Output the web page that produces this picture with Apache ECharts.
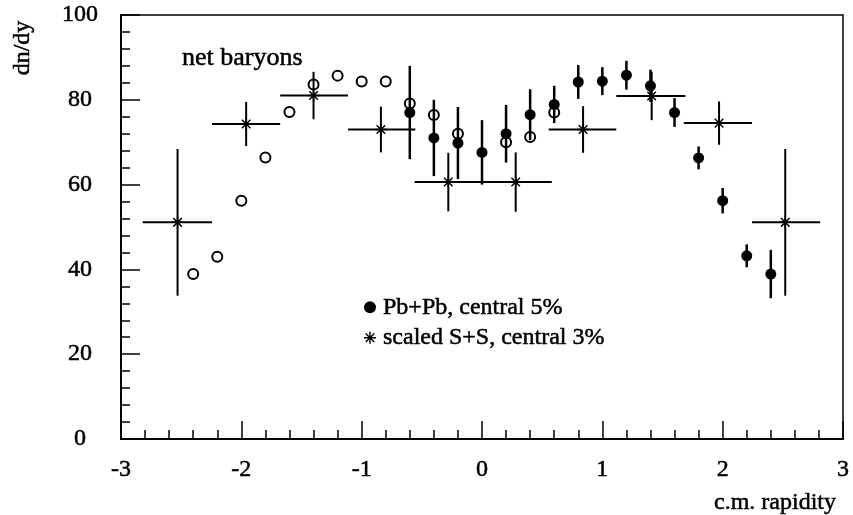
<!DOCTYPE html>
<html><head><meta charset="utf-8">
<script src="https://cdn.jsdelivr.net/npm/echarts@6/dist/echarts.min.js"></script>
<style>html,body{margin:0;padding:0;background:#fff}#c{width:853px;height:515px}</style>
</head><body><div id="c"></div>
<script>
// Pb+Pb, central 5% (filled circles) with statistical errors
var pbX = [-0.6,-0.4,-0.2,0,0.2,0.4,0.6,0.8,1.0,1.2,1.4,1.6,1.8,2.0,2.2,2.4];
var pbY = [77.0,71.0,69.8,67.6,72.0,76.5,78.9,84.2,84.4,85.8,83.3,77.0,66.3,56.2,43.2,38.9];
var pbErr = [11,9,8.5,7.6,6.8,6,4.4,4,3.3,3.4,3.8,3.4,2.7,3,2.7,5.7];
// reflected points (open circles)
var openX = [-2.4,-2.2,-2.0,-1.8,-1.6,-1.4,-1.2,-1.0,-0.8,-0.6,-0.4,-0.2,0.2,0.4,0.6];
var openY = [38.9,43.0,56.2,66.4,77.1,83.6,85.7,84.3,84.3,79.1,76.4,72.0,70.0,71.2,77.0];
// scaled S+S, central 3%
var ssX = [-2.53,-1.96,-1.40,-0.84,-0.28,0.28,0.84,1.41,1.97,2.52];
var ssY = [51.1,74.3,81.0,73.0,60.6,60.6,73.0,80.9,74.5,51.1];
var ssErr = [17.3,5.2,5.6,5.4,6.9,7.0,5.5,5.7,5.1,17.3];
var ssLo = [-2.82,-2.244,-1.677,-1.114,-0.56,0,0.554,1.116,1.677,2.244];
var ssHi = [-2.244,-1.677,-1.114,-0.554,0,0.58,1.116,1.69,2.244,2.81];
// axis ticks
var xTicks = {min:-3, max:3, step:1};
var yTicks = {min:0, max:100, step:20};

var FONT = "'Liberation Serif','Times New Roman',serif";
var STAR = 'path://M8.8,0L11.2,0L11.2,20L8.8,20Z M0,8.8L20,8.8L20,11.2L0,11.2Z M2.0,3.7L3.7,2.0L18,16.3L16.3,18Z M16.3,2.0L18,3.7L3.7,18L2.0,16.3Z';
var TXT = {color:'#000',fontFamily:FONT,fontSize:24,textBorderColor:'#000',textBorderWidth:0.5};

var pbData = pbX.map(function(x,i){return [x,pbY[i]];});
var pbErrData = pbX.map(function(x,i){return [x,pbY[i],pbErr[i]];});
var openData = openX.map(function(x,i){return [x,openY[i]];});
var ssData = ssX.map(function(x,i){return [x,ssY[i]];});
var ssBarData = ssX.map(function(x,i){return [x,ssY[i],ssErr[i],ssLo[i],ssHi[i]];});

var chart = echarts.init(document.getElementById('c'), null, {renderer:'canvas'});
chart.setOption({
  animation:false,
  backgroundColor:'#fff',
  grid:{left:121,right:10,top:15,bottom:76,show:true,borderColor:'#000',borderWidth:1.5,backgroundColor:'transparent'},
  xAxis:{type:'value',min:xTicks.min,max:xTicks.max,interval:xTicks.step,
    axisLine:{onZero:false,lineStyle:{color:'#000',width:2}},
    axisTick:{inside:true,length:18,lineStyle:{color:'#000',width:1.5}},
    minorTick:{show:true,splitNumber:5,length:9,lineStyle:{color:'#000',width:1.5}},
    splitLine:{show:false},
    axisLabel:Object.assign({margin:31,verticalAlign:'middle'},TXT)},
  yAxis:{type:'value',min:yTicks.min,max:yTicks.max,interval:yTicks.step,
    axisLine:{onZero:false,lineStyle:{color:'#000',width:2}},
    axisTick:{inside:true,length:19,lineStyle:{color:'#000',width:1.5}},
    minorTick:{show:true,splitNumber:5,length:9,lineStyle:{color:'#000',width:1.5}},
    splitLine:{show:false},
    axisLabel:Object.assign({margin:41,align:'center'},TXT)},
  legend:{orient:'vertical',left:359,top:290,itemWidth:12,itemHeight:12,itemGap:6,
    data:[{name:'Pb+Pb, central 5%',icon:'circle'},{name:'scaled S+S, central 3%',icon:STAR}],
    textStyle:Object.assign({padding:[0,0,0,2]},TXT),
    selectedMode:false},
  graphic:[
    {type:'text',x:23,y:48,rotation:Math.PI/2,style:{text:'dn/dy',font:'24px '+FONT,fill:'#000',stroke:'#000',lineWidth:0.5,align:'center',verticalAlign:'middle'}},
    {type:'text',x:836,y:503,style:{text:'c.m. rapidity',font:'24px '+FONT,fill:'#000',stroke:'#000',lineWidth:0.5,align:'right',verticalAlign:'middle'}},
    {type:'text',x:182,y:58,style:{text:'net baryons',font:'26px '+FONT,fill:'#000',stroke:'#000',lineWidth:0.5,align:'left',verticalAlign:'middle'}}
  ],
  series:[
    {type:'custom',name:'pbErr',data:pbErrData,z:3,silent:true,
      renderItem:function(params,api){
        var top=api.coord([api.value(0),api.value(1)+api.value(2)]);
        var bot=api.coord([api.value(0),api.value(1)-api.value(2)]);
        return {type:'line',shape:{x1:top[0],y1:top[1],x2:bot[0],y2:bot[1]},style:{stroke:'#000',lineWidth:2.5}};
      }},
    {type:'custom',name:'ssBars',data:ssBarData,z:3,silent:true,
      renderItem:function(params,api){
        var x=api.value(0),y=api.value(1),e=api.value(2);
        var top=api.coord([x,y+e]),bot=api.coord([x,y-e]);
        var l=api.coord([api.value(3),y]),r=api.coord([api.value(4),y]);
        return {type:'group',children:[
          {type:'line',shape:{x1:top[0],y1:top[1],x2:bot[0],y2:bot[1]},style:{stroke:'#000',lineWidth:2}},
          {type:'line',shape:{x1:l[0],y1:l[1],x2:r[0],y2:r[1]},style:{stroke:'#000',lineWidth:2}}
        ]};
      }},
    {type:'scatter',name:'reflected',data:openData,symbol:'circle',symbolSize:10,z:4,
      itemStyle:{color:'transparent',borderColor:'#000',borderWidth:2,opacity:1}},
    {type:'scatter',name:'Pb+Pb, central 5%',data:pbData,symbol:'circle',symbolSize:11,z:5,
      itemStyle:{color:'#000',opacity:1}},
    {type:'scatter',name:'scaled S+S, central 3%',data:ssData,symbol:STAR,symbolSize:12,z:5,
      itemStyle:{color:'#000',opacity:1}}
  ]
});
</script></body></html>
